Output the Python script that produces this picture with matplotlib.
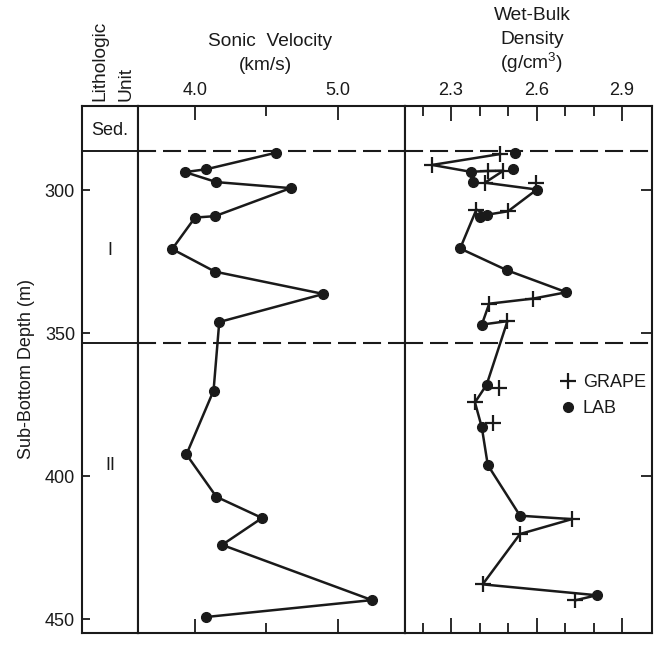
import matplotlib
matplotlib.use("Agg")
import matplotlib.pyplot as plt
from matplotlib.ticker import FixedLocator, NullFormatter
from matplotlib.lines import Line2D

plt.rcParams['font.family'] = ['Liberation Sans', 'DejaVu Sans']
plt.rcParams['mathtext.fontset'] = 'custom'
plt.rcParams['mathtext.rm'] = 'Liberation Sans'
plt.rcParams['mathtext.default'] = 'rm'
plt.rcParams['lines.scale_dashes'] = False

# ---------------- data ----------------
sonic_depth = [286.9, 292.7, 293.7, 297.2, 299.3, 309.1, 309.6, 320.6, 328.5, 336.3,
               346.1, 370.1, 392.4, 407.2, 414.6, 424.0, 443.3, 449.2]
sonic_vel = [4.57, 4.08, 3.93, 4.15, 4.67, 4.14, 4.00, 3.84, 4.14, 4.90,
             4.17, 4.13, 3.94, 4.15, 4.47, 4.19, 5.24, 4.08]

lab_depth = [287.1, 292.7, 293.6, 297.3, 299.8, 308.6, 309.3, 320.4, 328.0, 335.7,
             347.0, 368.0, 382.9, 396.1, 413.8, 441.6]
lab_dens = [2.525, 2.516, 2.369, 2.378, 2.601, 2.426, 2.402, 2.332, 2.496, 2.705,
            2.408, 2.425, 2.408, 2.429, 2.542, 2.811]

grape_depth = [287.4, 291.2, 293.3, 293.2, 297.4, 297.4, 306.8, 307.4, 337.9, 339.7,
               345.8, 369.1, 374.2, 381.5, 415.0, 420.2, 437.8, 443.4]
grape_dens = [2.472, 2.234, 2.431, 2.484, 2.419, 2.598, 2.389, 2.500, 2.589, 2.434,
              2.498, 2.469, 2.384, 2.448, 2.724, 2.542, 2.411, 2.735]

# hand-drawn trend line through a mix of GRAPE and LAB points
trend_depth = [287.4, 291.2, 293.6, 293.3, 293.2, 297.4, 299.8, 307.4, 308.6, 306.8,
               320.4, 328.0, 335.7, 337.9, 339.7, 347.0, 345.8, 368.0, 374.2, 382.9,
               396.1, 413.8, 415.0, 420.2, 437.8, 441.6, 443.4]
trend_dens = [2.472, 2.234, 2.369, 2.431, 2.484, 2.419, 2.601, 2.500, 2.426, 2.389,
              2.332, 2.496, 2.705, 2.589, 2.434, 2.408, 2.498, 2.425, 2.384, 2.408,
              2.429, 2.542, 2.724, 2.542, 2.411, 2.811, 2.735]

unit_bounds = [286.4, 353.6]
unit_labels = ['Sed.', 'I', 'II']
unit_label_depth = [279.0, 321.0, 396.3]

depth_ticks = [300, 350, 400, 450]
sonic_major = [4.0, 5.0]
sonic_minor = [4.5]
dens_major = [2.3, 2.6, 2.9]
dens_minor = [2.2, 2.4, 2.5, 2.7, 2.8]

# ---------------- layout ----------------
W, H = 660, 645
fig = plt.figure(figsize=(W / 100, H / 100), dpi=100)

top_px, bot_px = 106, 633
x_unit, x_son, x_den, x_right = 82, 138, 405, 652


def rect(x0, x1):
    return [x0 / W, 1 - bot_px / H, (x1 - x0) / W, (bot_px - top_px) / H]


ylim = (454.8, 270.6)
ink = '#1a1a1a'
FS = 13
FH = 13.8
LW_FRAME = 1.5

ax_u = fig.add_axes(rect(x_unit, x_son))
ax_s = fig.add_axes(rect(x_son, x_den))
ax_d = fig.add_axes(rect(x_den, x_right))

for ax in (ax_u, ax_s, ax_d):
    ax.set_ylim(*ylim)
    for sp in ax.spines.values():
        sp.set_linewidth(LW_FRAME)
        sp.set_color(ink)

# unit column
ax_u.set_xlim(0, 1)
ax_u.set_xticks([])
ax_u.yaxis.set_major_locator(FixedLocator(depth_ticks))
ax_u.tick_params(axis='y', direction='in', length=6, width=1.3, pad=5,
                 labelsize=FS, colors=ink, right=False)
for b in unit_bounds:
    ax_u.axhline(b, color=ink, lw=1.4)
for lab, d in zip(unit_labels, unit_label_depth):
    ax_u.text(0.5, d, lab, ha='center', va='center', fontsize=FS, color=ink,
              transform=ax_u.get_yaxis_transform())
ax_u.set_ylabel('Sub-Bottom Depth (m)', fontsize=FS, color=ink, labelpad=7)

# sonic panel
ax_s.set_xlim(3.6006, 5.4716)
ax_s.set_yticks([])
ax_s.xaxis.set_major_locator(FixedLocator(sonic_major))
ax_s.xaxis.set_minor_locator(FixedLocator(sonic_minor))
ax_s.xaxis.set_major_formatter(matplotlib.ticker.FormatStrFormatter('%.1f'))
ax_s.xaxis.set_minor_formatter(NullFormatter())
ax_s.tick_params(axis='x', which='both', direction='in', top=True, bottom=True,
                 labeltop=True, labelbottom=False, width=1.3, colors=ink,
                 labelsize=FS, pad=5)
ax_s.tick_params(axis='x', which='major', length=10)
ax_s.tick_params(axis='x', which='minor', length=7)
ax_s.plot(sonic_vel, sonic_depth, '-o', color=ink, lw=1.8, ms=7, zorder=3)

# density panel
ax_d.set_xlim(2.1386, 3.005)
ax_d.xaxis.set_major_locator(FixedLocator(dens_major))
ax_d.xaxis.set_minor_locator(FixedLocator(dens_minor))
ax_d.xaxis.set_major_formatter(matplotlib.ticker.FormatStrFormatter('%.1f'))
ax_d.xaxis.set_minor_formatter(NullFormatter())
ax_d.tick_params(axis='x', which='both', direction='in', top=True, bottom=True,
                 labeltop=True, labelbottom=False, width=1.3, colors=ink,
                 labelsize=FS, pad=5)
ax_d.tick_params(axis='x', which='major', length=11)
ax_d.tick_params(axis='x', which='minor', length=7)
ax_d.yaxis.set_major_locator(FixedLocator(depth_ticks[:3]))
ax_d.tick_params(axis='y', direction='in', left=False, right=True,
                 labelleft=False, labelright=False, length=8, width=1.3,
                 colors=ink)
ax_d.plot(trend_dens, trend_depth, '-', color=ink, lw=1.8, zorder=2)
ax_d.plot(lab_dens, lab_depth, 'o', color=ink, ms=7, ls='none', zorder=3)
ax_d.plot(grape_dens, grape_depth, '+', color=ink, ms=11, mew=1.6, ls='none',
          zorder=3)

# dashed unit boundaries across the data panels
for ax in (ax_s, ax_d):
    for b in unit_bounds:
        ax.axhline(b, color=ink, lw=1.5, dashes=(13, 5), zorder=1)

# legend
handles = [Line2D([], [], marker='+', ls='none', color=ink, ms=11, mew=1.6),
           Line2D([], [], marker='o', ls='none', color=ink, ms=7)]
ax_d.legend(handles, ['GRAPE', 'LAB'], loc='upper left', frameon=False,
            bbox_to_anchor=(561 / W, 1 - 374 / H), bbox_transform=fig.transFigure,
            fontsize=FS, handlelength=0.8, handletextpad=0.4,
            labelspacing=0.5, borderpad=0, borderaxespad=0, labelcolor=ink)

# header texts
def ftext(x, y, s, **kw):
    fig.text(x / W, 1 - y / H, s, fontsize=FH, color=ink, **kw)


ftext(100, 101, 'Lithologic', rotation=90, ha='center', va='bottom')
ftext(126, 101, 'Unit', rotation=90, ha='center', va='bottom')
ftext(270, 42, 'Sonic  Velocity', ha='center', va='center')
ftext(266, 66, '(km/s)', ha='center', va='center')
ftext(532, 16, 'Wet-Bulk', ha='center', va='center')
ftext(532, 40, 'Density', ha='center', va='center')
ftext(532, 63, r'(g/cm$^{3}$)', ha='center', va='center')

fig.savefig('out.png', dpi=100)
